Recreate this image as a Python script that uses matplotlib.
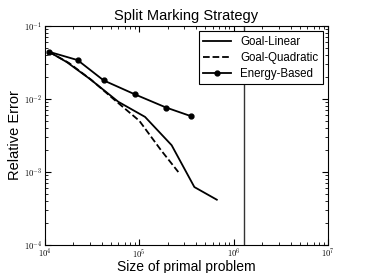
import matplotlib

matplotlib.use("Agg")

import matplotlib.pyplot as plt
from matplotlib.ticker import FuncFormatter, LogLocator
import numpy as np

plt.rcParams["font.family"] = ["Liberation Sans", "DejaVu Sans"]
plt.rcParams["mathtext.fontset"] = "cm"

# data
linear_n = [11000, 17000, 30000, 60000, 115000, 220000, 383000, 662000]
linear_err = [0.0443, 0.032, 0.0187, 0.0091, 0.00565, 0.00231, 0.000616, 0.000413]

quad_n = [11000, 18000, 31000, 55000, 100000, 170000, 259000]
quad_err = [0.0443, 0.031, 0.0182, 0.0096, 0.0050, 0.00197, 0.00099]

energy_n = [11000, 22200, 41900, 90000, 192000, 353000]
energy_err = [0.0443, 0.034, 0.0179, 0.0115, 0.0076, 0.00578]

vline_n = 1.3e6

fig = plt.figure(figsize=(3.65, 2.73), dpi=100)
ax = fig.add_axes([0.123, 0.104, 0.776, 0.801])

ax.plot(linear_n, linear_err, "k-", linewidth=1.3, label="Goal-Linear")
ax.plot(quad_n, quad_err, "k--", linewidth=1.3, label="Goal-Quadratic")
ax.plot(energy_n, energy_err, "k-", marker="o", markersize=3.5, linewidth=1.3,
        label="Energy-Based")
ax.axvline(vline_n, color="#333333", linewidth=1.0)

ax.set_xscale("log")
ax.set_yscale("log")
ax.set_xlim(1e4, 1e7)
ax.set_ylim(1e-4, 1e-1)

fmt = FuncFormatter(lambda v, p: r"$10^{%d}$" % int(round(np.log10(v))))
ax.xaxis.set_major_formatter(fmt)
ax.yaxis.set_major_formatter(fmt)
ax.xaxis.set_major_locator(LogLocator(base=10, numticks=10))
ax.yaxis.set_major_locator(LogLocator(base=10, numticks=10))
ax.tick_params(which="both", direction="in", top=True, right=True, labelsize=6.2)
ax.tick_params(which="major", length=4, pad=2)
ax.tick_params(which="minor", length=2)

ax.set_title("Split Marking Strategy", fontsize=10.5, pad=4)
ax.set_xlabel("Size of primal problem", fontsize=10, labelpad=0)
ax.set_ylabel("Relative Error", fontsize=10.5, labelpad=1)

leg = ax.legend(loc="upper right", fontsize=8.3, fancybox=False, framealpha=1,
                edgecolor="black", handlelength=2.4, borderpad=0.4,
                borderaxespad=0.45, labelspacing=0.35)
leg.get_frame().set_linewidth(0.8)

fig.savefig("out.png", dpi=100)
plt.close(fig)
